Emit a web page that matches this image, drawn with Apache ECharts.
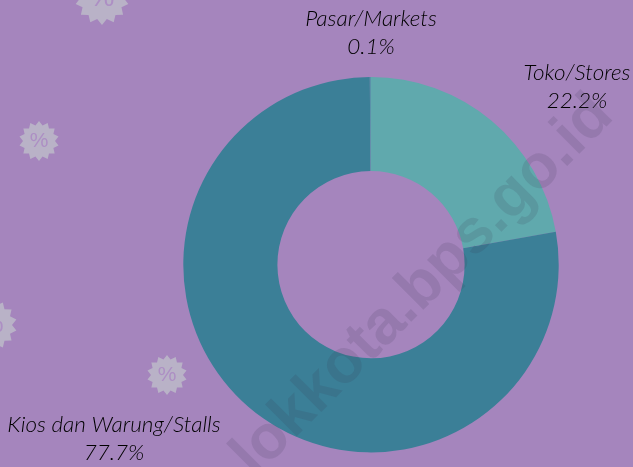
<!DOCTYPE html>
<html><head><meta charset="utf-8">
<style>html,body{margin:0;padding:0;background:#a585bd}#c{width:633px;height:467px}</style>
<script src="https://cdn.jsdelivr.net/npm/echarts@6/dist/echarts.min.js"></script></head>
<body><div id="c"></div>
<script>
const categories = ['Toko/Stores', 'Kios dan Warung/Stalls', 'Pasar/Markets'];
const values = [22.2, 77.7, 0.1];
const sliceColors = ['#60a9ad', '#3b7f97', '#5b92aa'];
const labelCentres = [[577, 87], [114, 439], [371, 33]];
const stars = [[102, -2, 27], [39, 141, 20], [-8, 325, 25], [167, 375, 20]];

function starPoints(cx, cy, r) {
  const pts = [], n = 14;
  for (let i = 0; i < n * 2; i++) {
    const a = -Math.PI / 2 + i * Math.PI / n, q = i % 2 ? r * 0.8 : r;
    pts.push([cx + q * Math.cos(a), cy + q * Math.sin(a)]);
  }
  return pts;
}
const graphic = [];
stars.forEach(s => {
  graphic.push({type: 'polygon', z: 0, shape: {points: starPoints(s[0], s[1], s[2])}, style: {fill: '#b9b2c7'}});
  graphic.push({type: 'text', z: 0, x: s[0], y: s[1], style: {text: '%', fill: '#ad8fc4', font: `${Math.round(s[2] * 1.05)}px "Liberation Sans"`, align: 'center', verticalAlign: 'middle'}});
});
graphic.push({type: 'text', z: 100, x: 423, y: 286, rotation: Math.PI / 4,
  style: {text: 'lokkota.bps.go.id', fill: 'rgba(60,50,80,0.14)', font: 'bold 62px "Liberation Sans"', align: 'center', verticalAlign: 'middle'}});

const chart = echarts.init(document.getElementById('c'), null, {renderer: 'canvas'});
chart.setOption({
  backgroundColor: '#a585bd',
  animation: false,
  graphic: graphic,
  series: [{
    type: 'pie',
    center: [371, 264.7],
    radius: [93.6, 187.7],
    startAngle: 90,
    clockwise: true,
    silent: true,
    avoidLabelOverlap: false,
    data: categories.map((n, i) => ({name: n, value: values[i], itemStyle: {color: sliceColors[i]}})),
    label: {show: true, formatter: p => p.name + '\n' + p.value.toFixed(1) + '%', color: '#000', overflow: 'none',
      fontFamily: 'Lato', fontWeight: 300, fontStyle: 'italic', fontSize: 22.5, lineHeight: 28, align: 'center', verticalAlign: 'middle'},
    labelLine: {show: false},
    labelLayout: p => ({x: labelCentres[p.dataIndex][0], y: labelCentres[p.dataIndex][1], align: 'center', verticalAlign: 'middle', hideOverlap: false})
  }]
});
</script></body></html>
